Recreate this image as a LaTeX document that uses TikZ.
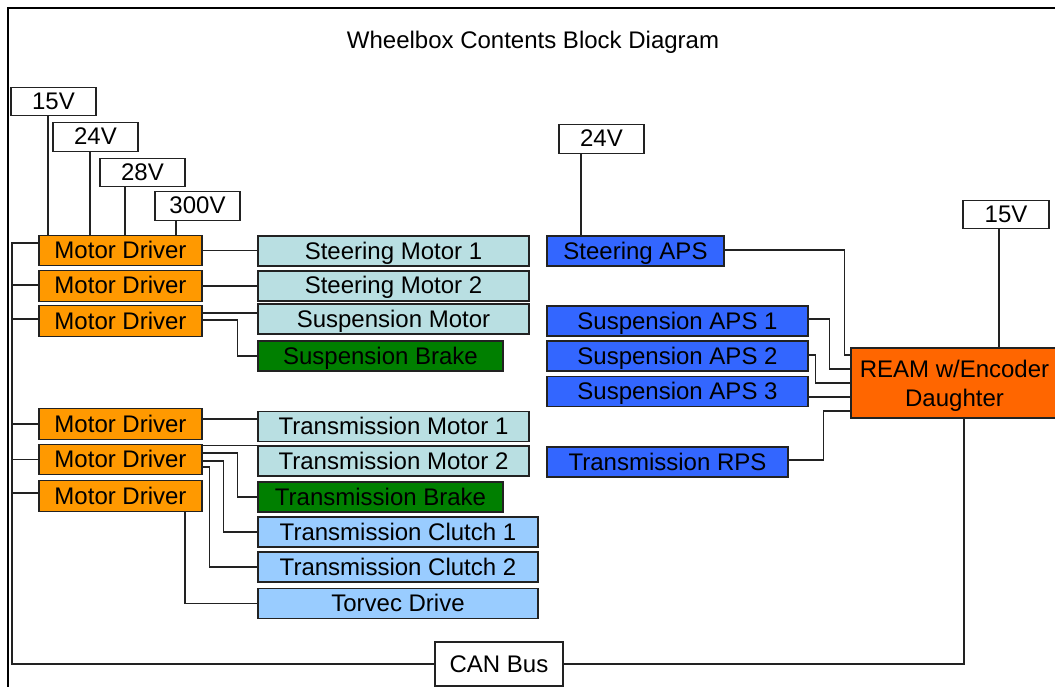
\documentclass[tikz,border=0pt]{standalone}
\usepackage{fontspec}
\setmainfont{Liberation Sans}
\definecolor{mdorange}{HTML}{FF9900}
\definecolor{motteal}{HTML}{B9DFE2}
\definecolor{brkgreen}{HTML}{007F00}
\definecolor{cltblue}{HTML}{99CCFF}
\definecolor{apsblue}{HTML}{3366FF}
\definecolor{reamorange}{HTML}{FF6600}
\definecolor{ink}{HTML}{222222}
\begin{document}
\begin{tikzpicture}[x=1pt,y=-1pt,
  blk/.style={draw=ink, line width=1.2pt, inner sep=0pt,
    font=\fontsize{24}{28}\selectfont, text height=17pt, text depth=1pt,
    minimum height=30pt},
  volt/.style={blk, fill=white, minimum width=85pt, minimum height=28.5pt},
  mdrv/.style={blk, fill=mdorange, minimum width=163pt, minimum height=30.5pt},
  motor/.style={blk, fill=motteal, minimum width=271pt},
  brake/.style={blk, fill=brkgreen, minimum width=245pt},
  clutch/.style={blk, fill=cltblue, minimum width=280pt},
  sens/.style={blk, fill=apsblue},
  wire/.style={draw=ink, line width=1.3pt}]
\useasboundingbox (0,0) rectangle (1055,687);
% frame
\draw[line width=2.5pt] (8,687) -- (8,8) -- (1055,8);
\node[font=\fontsize{24}{28}\selectfont, inner sep=0pt, text height=17pt, text depth=0pt]
  (title) at (533,40) {Wheelbox Contents Block Diagram};

% voltage sources
\node[volt] (v15)  at (53.5,101.5) {15V};
\node[volt] (v24)  at (95.5,137)   {24V};
\node[volt] (v28)  at (142.5,172.5) {28V};
\node[volt] (v300) at (197.5,206)  {300V};
\node[volt] (v24r) at (601.5,139)  {24V};
\node[volt, minimum width=86pt] (v15r) at (1006,214.5) {15V};

% motor drivers
\node[mdrv] (md1) at (120.5,250.5) {Motor Driver};
\node[mdrv] (md2) at (120.5,286)   {Motor Driver};
\node[mdrv] (md3) at (120.5,321)   {Motor Driver};
\node[mdrv] (md4) at (120.5,424)   {Motor Driver};
\node[mdrv] (md5) at (120.5,459.5) {Motor Driver};
\node[mdrv] (md6) at (120.5,496)   {Motor Driver};

% actuators
\node[motor] (sm1)  at (393.5,251) {Steering Motor 1};
\node[motor] (sm2)  at (393.5,286) {Steering Motor 2};
\node[motor] (smot) at (393.5,319) {Suspension Motor};
\node[brake] (sbrk) at (380.5,356) {Suspension Brake};
\node[motor] (tm1)  at (393.5,426.5) {Transmission Motor 1};
\node[motor] (tm2)  at (393.5,461) {Transmission Motor 2};
\node[brake] (tbrk) at (380.5,497) {Transmission Brake};
\node[clutch] (cl1) at (398,532) {Transmission Clutch 1};
\node[clutch] (cl2) at (398,567) {Transmission Clutch 2};
\node[clutch] (tvd) at (398,603.5) {Torvec Drive};

% sensors
\node[sens, minimum width=177pt] (saps) at (635.5,251) {Steering APS};
\node[sens, minimum width=261pt] (aps1) at (677.5,321) {Suspension APS 1};
\node[sens, minimum width=261pt] (aps2) at (677.5,356) {Suspension APS 2};
\node[sens, minimum width=261pt] (aps3) at (677.5,391.5) {Suspension APS 3};
\node[sens, minimum width=241pt] (rps)  at (667.5,462) {Transmission RPS};

% REAM
\node[draw=ink, line width=1.2pt, fill=reamorange, minimum width=207pt, minimum height=70pt,
  inner sep=0pt, align=center, font=\fontsize{24}{29}\selectfont, text depth=0pt]
  (ream) at (954.5,383) {REAM w/Encoder\\Daughter};

% CAN bus
\node[blk, fill=white, minimum width=128pt, minimum height=44pt] (can) at (499,664) {CAN Bus};
\coordinate (busL) at (12,0);

% power feeds
\draw[wire] ([xshift=-5.5pt]v15.south) -- ([xshift=-5.5pt]v15.south |- md1.north);
\draw[wire] ([xshift=-5.5pt]v24.south) -- ([xshift=-5.5pt]v24.south |- md1.north);
\draw[wire] ([xshift=-17.5pt]v28.south) -- ([xshift=-17.5pt]v28.south |- md1.north);
\draw[wire] ([xshift=-21.5pt]v300.south) -- ([xshift=-21.5pt]v300.south |- md1.north);
\draw[wire] ([xshift=-20.5pt]v24r.south) -- ([xshift=-20.5pt]v24r.south |- saps.north);
\draw[wire] ([xshift=-7pt]v15r.south) -- ([xshift=-7pt]v15r.south |- ream.north);

% CAN bus wiring
\draw[wire] ([yshift=7.5pt]md1.west) -| (can.west -| busL) -- (can.west);
\draw[wire] ([yshift=1pt]md2.west) -- ([yshift=1pt]md2.west -| busL);
\draw[wire] ([yshift=2pt]md3.west) -- ([yshift=2pt]md3.west -| busL);
\draw[wire] (md4.west) -- (md4.west -| busL);
\draw[wire] (md5.west) -- (md5.west -| busL);
\draw[wire] ([yshift=3pt]md6.west) -- ([yshift=3pt]md6.west -| busL);
\draw[wire] ([xshift=9.5pt]ream.south) |- (can.east);

% driver to actuator
\draw[wire] (md1.east) -- (md1.east -| sm1.west);
\draw[wire] (md2.east) -- (md2.east -| sm2.west);
\draw[wire] ([yshift=8pt]md3.east) -- ([yshift=8pt]md3.east -| smot.west);
\draw[wire] ([yshift=1pt]md3.east) -- ++(35,0) |- (sbrk.west);
\draw[wire] ([yshift=5pt]md4.east) -- ([yshift=5pt]md4.east -| tm1.west);
\draw[wire] (md5.east |- tm2.north west) -- (tm2.north west);
\draw[wire] ([yshift=6.5pt]md5.east) -- ++(35,0) |- (tbrk.west);
\draw[wire] ([yshift=-1.5pt]md5.east) -- ++(21,0) |- (cl1.west);
\draw[wire] ([yshift=-7.5pt]md5.east) -- ++(7,0) |- (cl2.west);
\draw[wire] ([xshift=64.5pt]md6.south) |- (tvd.west);

% sensors to REAM
\draw[wire] ([yshift=1pt]saps.east) -- ++(120,0) |- ([yshift=28pt]ream.west);
\draw[wire] ([yshift=2pt]aps1.east) -- ++(21,0) |- ([yshift=14pt]ream.west);
\draw[wire] ([yshift=1pt]aps2.east) -- ++(7,0) |- (ream.west);
\draw[wire] ([yshift=-14pt]ream.west -| aps3.east) -- ([yshift=-14pt]ream.west);
\draw[wire] ([yshift=2pt]rps.east) -- ++(35,0) |- ([yshift=-28pt]ream.west);
\end{tikzpicture}
\end{document}
